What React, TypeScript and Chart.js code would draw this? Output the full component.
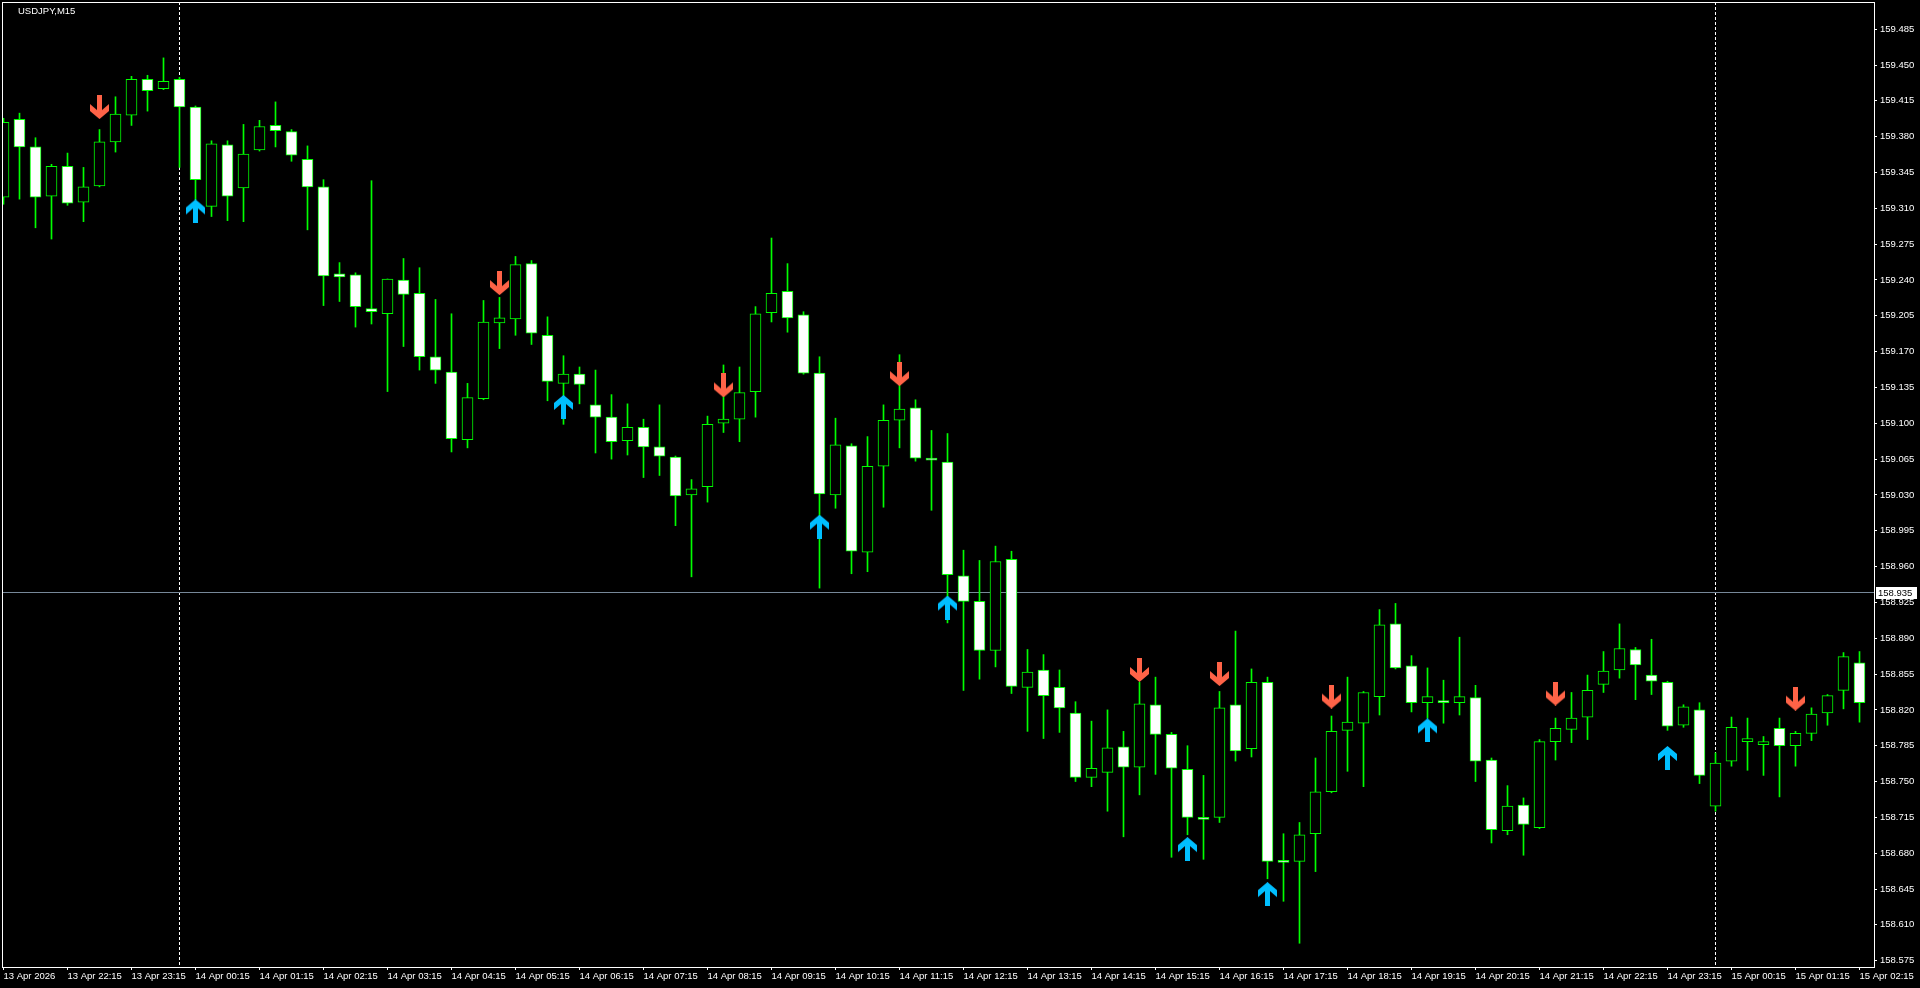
import React, { useEffect, useRef } from "react";
import { Chart, registerables } from "chart.js";

Chart.register(...registerables);

// ---------- data ----------
const CHART_TITLE = "USDJPY,M15";

const OPEN = [
  159.321, 159.397, 159.370, 159.322, 159.351, 159.316, 159.332, 159.375, 159.401, 159.436,
  159.427, 159.436, 159.409, 159.312, 159.372, 159.330, 159.367, 159.391, 159.385, 159.358,
  159.331, 159.246, 159.245, 159.212, 159.207, 159.240, 159.227, 159.165, 159.150, 159.084,
  159.124, 159.198, 159.202, 159.256, 159.186, 159.139, 159.148, 159.118, 159.106, 159.083,
  159.096, 159.077, 159.067, 159.030, 159.038, 159.100, 159.104, 159.131, 159.208, 159.229,
  159.206, 159.149, 159.030, 159.078, 158.974, 159.058, 159.103, 159.115, 159.066, 159.062,
  158.951, 158.926, 158.878, 158.967, 158.842, 158.859, 158.842, 158.817, 158.754, 158.759,
  158.784, 158.764, 158.825, 158.796, 158.762, 158.715, 158.715, 158.825, 158.782, 158.847,
  158.673, 158.672, 158.699, 158.740, 158.800, 158.807, 158.833, 158.904, 158.863, 158.827,
  158.829, 158.827, 158.832, 158.771, 158.702, 158.727, 158.705, 158.789, 158.801, 158.813,
  158.845, 158.859, 158.879, 158.854, 158.847, 158.805, 158.820, 158.726, 158.770, 158.789,
  158.786, 158.802, 158.785, 158.797, 158.817, 158.839, 158.866,
];

const HIGH = [
  159.398, 159.403, 159.379, 159.353, 159.364, 159.350, 159.387, 159.419, 159.439, 159.440,
  159.457, 159.438, 159.410, 159.376, 159.376, 159.392, 159.396, 159.414, 159.387, 159.371,
  159.338, 159.257, 159.247, 159.337, 159.241, 159.261, 159.252, 159.221, 159.207, 159.139,
  159.220, 159.223, 159.263, 159.259, 159.204, 159.166, 159.155, 159.152, 159.128, 159.119,
  159.104, 159.118, 159.068, 159.045, 159.107, 159.157, 159.155, 159.214, 159.281, 159.256,
  159.209, 159.165, 159.105, 159.080, 159.087, 159.118, 159.167, 159.123, 159.093, 159.090,
  158.976, 158.966, 158.980, 158.975, 158.879, 158.874, 158.859, 158.828, 158.809, 158.820,
  158.799, 158.847, 158.852, 158.798, 158.785, 158.756, 158.838, 158.897, 158.860, 158.852,
  158.699, 158.710, 158.773, 158.814, 158.852, 158.838, 158.918, 158.924, 158.873, 158.861,
  158.849, 158.891, 158.844, 158.773, 158.746, 158.734, 158.791, 158.812, 158.837, 158.854,
  158.877, 158.904, 158.881, 158.889, 158.848, 158.825, 158.827, 158.778, 158.813, 158.812,
  158.794, 158.812, 158.799, 158.822, 158.835, 158.876, 158.877,
];

const LOW = [
  159.314, 159.319, 159.291, 159.280, 159.313, 159.297, 159.331, 159.365, 159.391, 159.405,
  159.426, 159.350, 159.318, 159.302, 159.298, 159.297, 159.366, 159.370, 159.356, 159.289,
  159.215, 159.219, 159.194, 159.197, 159.131, 159.175, 159.152, 159.139, 159.072, 159.076,
  159.123, 159.173, 159.186, 159.177, 159.122, 159.099, 159.119, 159.071, 159.065, 159.069,
  159.047, 159.049, 159.000, 158.950, 159.023, 159.091, 159.082, 159.106, 159.199, 159.189,
  159.148, 158.939, 159.017, 158.953, 158.955, 159.018, 159.076, 159.063, 159.015, 158.905,
  158.839, 158.850, 158.862, 158.836, 158.799, 158.792, 158.798, 158.750, 158.745, 158.721,
  158.696, 158.737, 158.757, 158.676, 158.698, 158.674, 158.710, 158.770, 158.774, 158.655,
  158.633, 158.592, 158.662, 158.739, 158.760, 158.745, 158.815, 158.860, 158.818, 158.812,
  158.807, 158.815, 158.750, 158.690, 158.698, 158.678, 158.704, 158.771, 158.788, 158.791,
  158.837, 158.851, 158.830, 158.835, 158.800, 158.803, 158.748, 158.721, 158.765, 158.761,
  158.756, 158.735, 158.765, 158.790, 158.805, 158.821, 158.808,
];

const CLOSE = [
  159.394, 159.370, 159.321, 159.351, 159.315, 159.331, 159.375, 159.402, 159.436, 159.425,
  159.434, 159.409, 159.338, 159.373, 159.322, 159.363, 159.390, 159.386, 159.362, 159.331,
  159.244, 159.243, 159.214, 159.209, 159.241, 159.226, 159.165, 159.152, 159.085, 159.125,
  159.199, 159.203, 159.255, 159.188, 159.141, 159.148, 159.138, 159.106, 159.082, 159.096,
  159.077, 159.068, 159.029, 159.036, 159.099, 159.104, 159.130, 159.207, 159.227, 159.203,
  159.149, 159.031, 159.079, 158.975, 159.058, 159.103, 159.114, 159.066, 159.064, 158.952,
  158.926, 158.878, 158.965, 158.843, 158.857, 158.834, 158.822, 158.754, 158.763, 158.783,
  158.764, 158.826, 158.796, 158.763, 158.715, 158.713, 158.822, 158.780, 158.847, 158.672,
  158.671, 158.698, 158.740, 158.799, 158.808, 158.837, 158.903, 158.861, 158.827, 158.833,
  158.827, 158.833, 158.770, 158.703, 158.726, 158.708, 158.789, 158.802, 158.812, 158.839,
  158.858, 158.880, 158.864, 158.848, 158.804, 158.823, 158.756, 158.768, 158.803, 158.792,
  158.789, 158.785, 158.797, 158.816, 158.834, 158.872, 158.827,
];

// signal arrows: bar index + price where the arrow sits
const SELL_ARROW_BARS = [6, 31, 45, 56, 71, 76, 83, 97, 112];
const SELL_ARROW_PRICES = [159.409, 159.237, 159.137, 159.148, 158.859, 158.855, 158.833, 158.836, 158.831];
const BUY_ARROW_BARS = [12, 35, 51, 59, 74, 79, 89, 104];
const BUY_ARROW_PRICES = [159.307, 159.116, 158.999, 158.920, 158.684, 158.640, 158.800, 158.773];

const BID_PRICE = 158.935;
const DAY_SEPARATOR_BARS = [11, 107];

const X_TICK_BARS = [
  0, 4, 8, 12, 16, 20, 24, 28, 32, 36, 40, 44, 48, 52, 56,
  60, 64, 68, 72, 76, 80, 84, 88, 92, 96, 100, 104, 108, 112, 116,
];
const X_TICK_LABELS = [
  "13 Apr 2026", "13 Apr 22:15", "13 Apr 23:15", "14 Apr 00:15", "14 Apr 01:15",
  "14 Apr 02:15", "14 Apr 03:15", "14 Apr 04:15", "14 Apr 05:15", "14 Apr 06:15",
  "14 Apr 07:15", "14 Apr 08:15", "14 Apr 09:15", "14 Apr 10:15", "14 Apr 11:15",
  "14 Apr 12:15", "14 Apr 13:15", "14 Apr 14:15", "14 Apr 15:15", "14 Apr 16:15",
  "14 Apr 17:15", "14 Apr 18:15", "14 Apr 19:15", "14 Apr 20:15", "14 Apr 21:15",
  "14 Apr 22:15", "14 Apr 23:15", "15 Apr 00:15", "15 Apr 01:15", "15 Apr 02:15",
];
const Y_TICKS = [
  159.485, 159.45, 159.415, 159.38, 159.345, 159.31, 159.275, 159.24, 159.205,
  159.17, 159.135, 159.1, 159.065, 159.03, 158.995, 158.96, 158.925, 158.89,
  158.855, 158.82, 158.785, 158.75, 158.715, 158.68, 158.645, 158.61, 158.575,
];

// ---------- view settings ----------
const Y_MIN = 158.5688;
const Y_MAX = 159.5116;
const X_MIN = -0.09375;
const X_MAX = 116.90625;
const FONT = "'Liberation Sans', Arial, sans-serif";
const LIME = "#00ff00";

function makeArrow(color: string, up: boolean): HTMLCanvasElement {
  const c = document.createElement("canvas");
  c.width = 19;
  c.height = 24;
  const ctx = c.getContext("2d")!;
  const pts = [
    [9.5, 0], [19, 8], [19, 15], [12, 9], [12, 24], [7, 24], [7, 9], [0, 15], [0, 8],
  ];
  ctx.beginPath();
  pts.forEach(([px, py], k) => {
    const yy = up ? py : 24 - py;
    if (k === 0) ctx.moveTo(px, yy);
    else ctx.lineTo(px, yy);
  });
  ctx.closePath();
  ctx.fillStyle = color;
  ctx.fill();
  return c;
}

const zeroPadding = (s: any) => {
  s.paddingLeft = 0;
  s.paddingRight = 0;
  s.paddingTop = 0;
  s.paddingBottom = 0;
};

const overlayPlugin = {
  id: "mt4Overlay",
  beforeDraw(chart: any) {
    const { ctx, width, height } = chart;
    ctx.save();
    ctx.fillStyle = "#000";
    ctx.fillRect(0, 0, width, height);
    ctx.restore();
  },
  beforeDatasetsDraw(chart: any) {
    const { ctx, chartArea: a, scales } = chart;
    const xs = scales.x;
    const ys = scales.y;
    ctx.save();
    ctx.beginPath();
    ctx.rect(a.left, a.top, a.right - a.left, a.bottom - a.top);
    ctx.clip();
    ctx.lineWidth = 1;
    ctx.strokeStyle = "#ffffff";
    ctx.setLineDash([3, 2]);
    DAY_SEPARATOR_BARS.forEach((b) => {
      const px = Math.round(xs.getPixelForValue(b) - 0.5) + 0.5;
      ctx.beginPath();
      ctx.moveTo(px, a.top);
      ctx.lineTo(px, a.bottom);
      ctx.stroke();
    });
    ctx.setLineDash([]);
    const by = Math.round(ys.getPixelForValue(BID_PRICE) - 0.5) + 0.5;
    ctx.strokeStyle = "#778899";
    ctx.beginPath();
    ctx.moveTo(a.left, by);
    ctx.lineTo(a.right, by);
    ctx.stroke();
    ctx.restore();
  },
  afterDraw(chart: any) {
    const { ctx, chartArea: a, scales } = chart;
    const ys = scales.y;
    ctx.save();
    // frame
    ctx.strokeStyle = "#ffffff";
    ctx.lineWidth = 1;
    ctx.strokeRect(a.left + 0.5, a.top + 0.5, a.right - a.left, a.bottom - a.top);
    // title
    ctx.fillStyle = "#ffffff";
    ctx.font = `9.5px ${FONT}`;
    ctx.textBaseline = "middle";
    ctx.textAlign = "left";
    ctx.fillText(CHART_TITLE, 18, 11);
    // bid price label
    const by = Math.round(ys.getPixelForValue(BID_PRICE) - 0.5) + 0.5;
    ctx.fillStyle = "#ffffff";
    ctx.fillRect(a.right + 2, Math.round(by) - 6, 41, 12);
    ctx.fillStyle = "#000000";
    ctx.fillText(BID_PRICE.toFixed(3), a.right + 4, by + 0.5);
    ctx.restore();
  },
};

export default function App() {
  const ref = useRef<HTMLCanvasElement>(null);

  useEffect(() => {
    const canvas = ref.current;
    if (!canvas) return;
    const upArrow = makeArrow("#00BFFF", true);
    const downArrow = makeArrow("#FF6347", false);

    const bodies = OPEN.map((o, i) => ({ x: i, y: [o, CLOSE[i]] }));
    const wicks = LOW.map((l, i) => ({ x: i, y: [l, HIGH[i]] }));
    const bodyFill = OPEN.map((o, i) => (CLOSE[i] >= o ? "#000000" : "#ffffff"));

    const chart = new Chart(canvas, {
      type: "bar",
      data: {
        datasets: [
          {
            type: "scatter",
            label: "sell",
            data: SELL_ARROW_BARS.map((b, k) => ({ x: b, y: SELL_ARROW_PRICES[k] })),
            pointStyle: downArrow as any,
            pointRadius: 10,
            order: 0,
          } as any,
          {
            type: "scatter",
            label: "buy",
            data: BUY_ARROW_BARS.map((b, k) => ({ x: b, y: BUY_ARROW_PRICES[k] })),
            pointStyle: upArrow as any,
            pointRadius: 10,
            order: 0,
          } as any,
          {
            type: "bar",
            label: "body",
            data: bodies as any,
            backgroundColor: bodyFill,
            borderColor: LIME,
            borderWidth: 1,
            borderSkipped: false,
            barThickness: 11,
            grouped: false,
            order: 1,
          } as any,
          {
            type: "bar",
            label: "wick",
            data: wicks as any,
            backgroundColor: LIME,
            borderWidth: 0,
            barThickness: 1,
            grouped: false,
            order: 2,
          } as any,
        ],
      },
      options: {
        responsive: false,
        animation: false,
        devicePixelRatio: 1,
        events: [],
        layout: { autoPadding: false, padding: { left: 2, top: 2, right: 0, bottom: 0 } },
        plugins: {
          legend: { display: false },
          tooltip: { enabled: false },
          title: { display: false },
        },
        scales: {
          x: {
            type: "linear",
            position: "bottom",
            min: X_MIN,
            max: X_MAX,
            offset: false,
            grid: {
              offset: false,
              drawOnChartArea: false,
              drawTicks: true,
              tickLength: 3,
              color: "#ffffff",
            },
            border: { display: false },
            afterBuildTicks: (s: any) => {
              s.ticks = X_TICK_BARS.map((v) => ({ value: v }));
            },
            afterFit: (s: any) => {
              s.height = 21;
              zeroPadding(s);
            },
            ticks: {
              autoSkip: false,
              maxRotation: 0,
              minRotation: 0,
              align: "start",
              padding: 1,
              color: "#ffffff",
              font: { family: FONT, size: 9.5 },
              callback: (_v: any, idx: number) => X_TICK_LABELS[idx],
            },
          },
          y: {
            type: "linear",
            position: "right",
            min: Y_MIN,
            max: Y_MAX,
            beginAtZero: false,
            grid: {
              drawOnChartArea: false,
              drawTicks: true,
              tickLength: 3,
              color: "#ffffff",
            },
            border: { display: false },
            afterBuildTicks: (s: any) => {
              s.ticks = Y_TICKS.map((v) => ({ value: v }));
            },
            afterFit: (s: any) => {
              s.width = 46;
              zeroPadding(s);
            },
            ticks: {
              autoSkip: false,
              padding: 3,
              color: "#ffffff",
              font: { family: FONT, size: 9.5 },
              callback: (v: any) => Number(v).toFixed(3),
            },
          },
        },
      } as any,
      plugins: [overlayPlugin],
    });

    return () => chart.destroy();
  }, []);

  return (
    <div
      style={{
        position: "fixed",
        left: 0,
        top: 0,
        width: 1920,
        height: 988,
        background: "#000",
        overflow: "hidden",
      }}
    >
      <canvas
        ref={ref}
        width={1920}
        height={988}
        style={{ display: "block", width: 1920, height: 988 }}
      />
    </div>
  );
}
